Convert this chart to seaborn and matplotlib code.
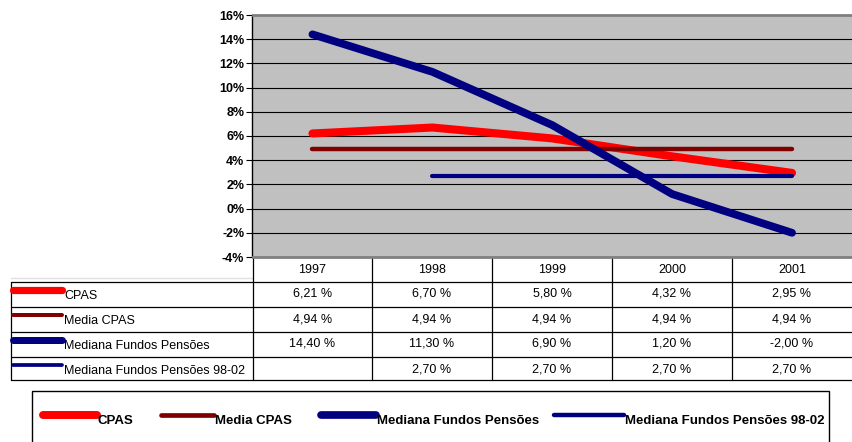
import numpy as np
import pandas as pd
import matplotlib
matplotlib.use("Agg")
import matplotlib.pyplot as plt
import seaborn as sns
from matplotlib.patches import Rectangle

years = ["1997", "1998", "1999", "2000", "2001"]
cpas = [6.21, 6.70, 5.80, 4.32, 2.95]
media_cpas = [4.94, 4.94, 4.94, 4.94, 4.94]
mediana = [14.40, 11.30, 6.90, 1.20, -2.00]
mediana_9802 = [np.nan, 2.70, 2.70, 2.70, 2.70]
series_names = ["CPAS", "Media CPAS", "Mediana Fundos Pensões", "Mediana Fundos Pensões 98-02"]
series_values = [cpas, media_cpas, mediana, mediana_9802]
yticks = [-4, -2, 0, 2, 4, 6, 8, 10, 12, 14, 16]

colors = ["#FF0000", "#800000", "#000080", "#000080"]
widths = [5.8, 3.2, 5.6, 3.0]

sns.set_theme(style="white")
plt.rcParams["font.family"] = ["Liberation Sans", "DejaVu Sans"]
plt.rcParams["text.color"] = "black"
plt.rcParams["ytick.color"] = "black"
plt.rcParams["ytick.labelcolor"] = "black"

W, H = 852, 442
fig = plt.figure(figsize=(W / 100, H / 100), dpi=100)

def rect(x0, y0, x1, y1):
    return [x0 / W, 1 - y1 / H, (x1 - x0) / W, (y1 - y0) / H]

# overlay axes in pixel coordinates (table, legend)
ov = fig.add_axes([0, 0, 1, 1], zorder=0)
ov.set_xlim(0, W)
ov.set_ylim(H, 0)
ov.axis("off")

ax = fig.add_axes(rect(252.5, 15, 852, 257), zorder=2)
ax.set_facecolor("#C0C0C0")

rows = []
for name, vals in zip(series_names, series_values):
    for i, v in enumerate(vals):
        rows.append({"serie": name, "x": i, "v": v})
df = pd.DataFrame(rows)

for name, c, lw in zip(series_names, colors, widths):
    sub = df[df["serie"] == name].dropna()
    sns.lineplot(data=sub, x="x", y="v", ax=ax, color=c, linewidth=lw,
                 solid_capstyle="round", legend=False, zorder=3)

ax.set_xlim(-0.5, 4.5)
ax.set_ylim(-4, 16)
ax.set_yticks(yticks)
ax.set_yticklabels([f"{t}%" for t in yticks], fontsize=9, fontweight="bold", color="black")
ax.set_xticks([])
ax.set_xlabel("")
ax.set_ylabel("")
for t in yticks[1:-1]:
    ax.axhline(t, color="black", lw=0.8, zorder=1)
ax.tick_params(axis="y", left=True, length=4, width=0.8, color="black", pad=2)
for s in ["top", "bottom"]:
    ax.spines[s].set_color("#808080")
    ax.spines[s].set_linewidth(2)
ax.spines["right"].set_visible(False)
ax.spines["left"].set_color("black")
ax.spines["left"].set_linewidth(1)

# ---- table ----
col_x = [252.5, 372, 492, 612, 732, 852]
row_y = [257, 282, 307, 332, 357, 380]
lc = "black"
ov.plot([11, 252.5], [278, 278], color="#E0E0E0", lw=1)
for y in row_y[1:]:
    ov.plot([11, 852], [y, y], color=lc, lw=0.9)
ov.plot([11, 11], [row_y[1], row_y[-1]], color=lc, lw=0.9)
for x in col_x[:-1]:
    ov.plot([x, x], [row_y[0], row_y[-1]], color=lc, lw=0.9)
for i, yr in enumerate(years):
    ov.text((col_x[i] + col_x[i + 1]) / 2, 270, yr, ha="center", va="center",
            fontsize=9, color="black")
for r, (name, vals, c, lw) in enumerate(zip(series_names, series_values, colors, widths)):
    y0 = row_y[r + 1]
    ov.plot([13, 62], [y0 + 8, y0 + 8], color=c, lw=lw * 0.9, solid_capstyle="round")
    ov.text(64, y0 + 14, name, ha="left", va="center", fontsize=9, color="black")
    for i, v in enumerate(vals):
        if not np.isnan(v):
            ov.text((col_x[i] + col_x[i + 1]) / 2, y0 + 12,
                    f"{v:.2f} %".replace(".", ","), ha="center", va="center",
                    fontsize=9, color="black")

# ---- legend ----
ov.add_patch(Rectangle((32, 391), 797, 60, fill=False, edgecolor="black", lw=1))
leg_pos = [(43, 97), (161, 214), (321, 376), (554, 624)]
for (x0, x1), name, c, lw in zip(leg_pos, series_names, colors, widths):
    ov.plot([x0, x1], [415, 415], color=c, lw=lw * 0.9 + 0.5, solid_capstyle="round")
    ov.text(x1 + 1, 421, name, ha="left", va="center", fontsize=9.5,
            fontweight="bold", color="black")

fig.savefig("out.png", dpi=100, facecolor="white")
